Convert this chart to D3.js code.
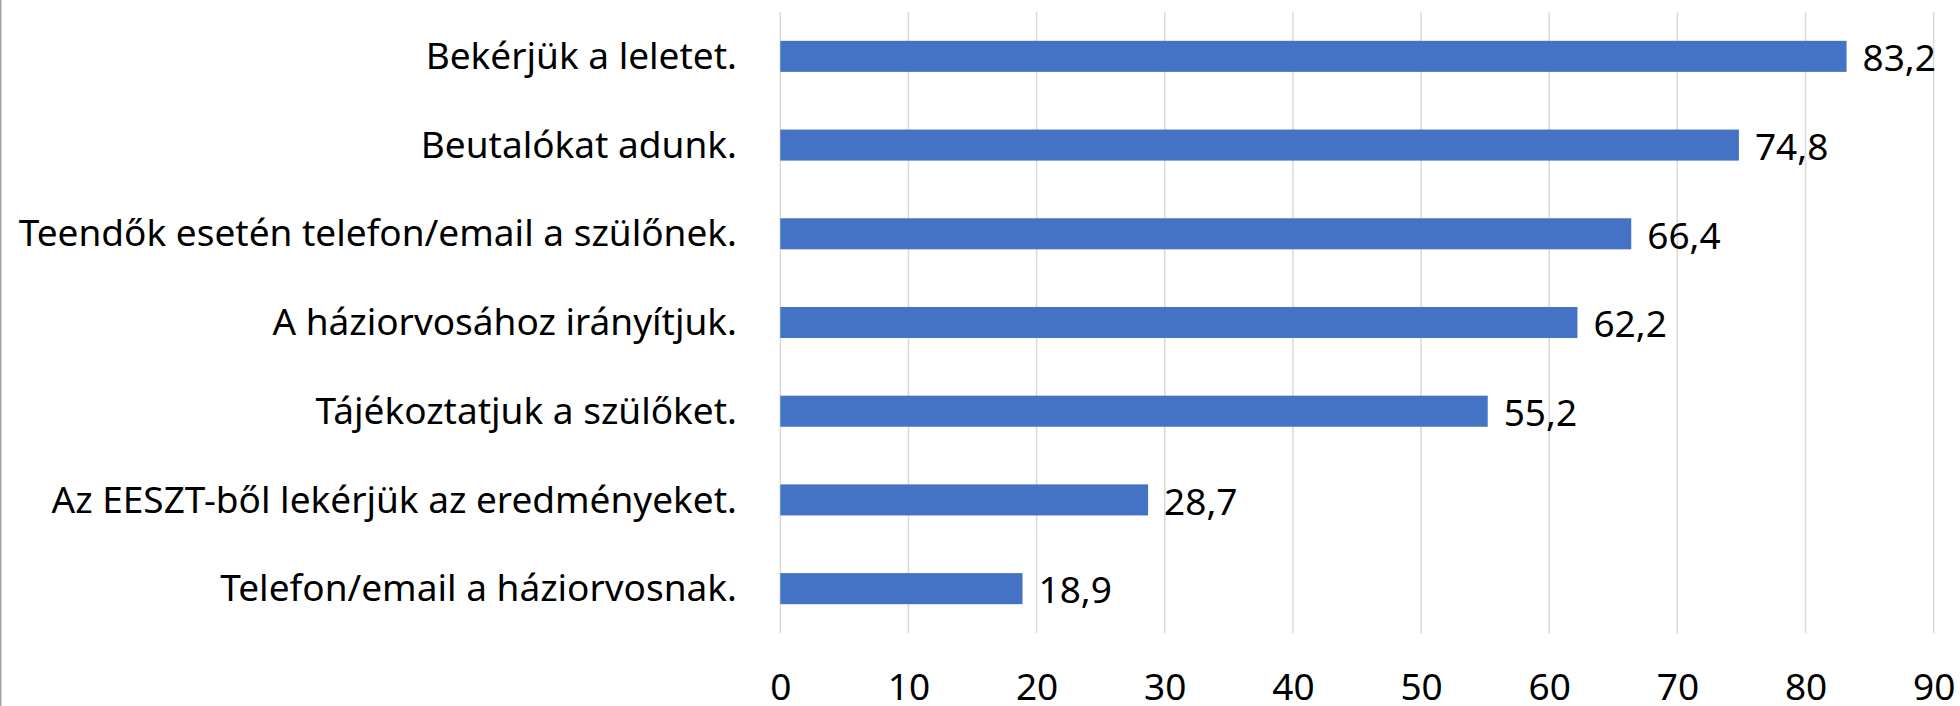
<!DOCTYPE html>
<html>
<head>
<meta charset="utf-8">
<script src="https://cdn.jsdelivr.net/npm/d3@7"></script>
<style>
  html, body { margin: 0; padding: 0; background: #fff; }
  svg { display: block; }
  text { font-family: "Noto Sans", "Open Sans", sans-serif; fill: #000; }
</style>
</head>
<body>
<svg id="chart" width="1960" height="706"></svg>
<script>
const categories = [
  "Bekérjük a leletet.",
  "Beutalókat adunk.",
  "Teendők esetén telefon/email a szülőnek.",
  "A háziorvosához irányítjuk.",
  "Tájékoztatjuk a szülőket.",
  "Az EESZT-ből lekérjük az eredményeket.",
  "Telefon/email a háziorvosnak."
];
const values = [83.2, 74.8, 66.4, 62.2, 55.2, 28.7, 18.9];
const valueLabels = ["83,2", "74,8", "66,4", "62,2", "55,2", "28,7", "18,9"];
const tickValues = [0, 10, 20, 30, 40, 50, 60, 70, 80, 90];

const W = 1960, H = 706;
const FS = 37;
const svg = d3.select("#chart");

const x = d3.scaleLinear().domain([0, 90]).range([780.3, 1933.7]);
const y = d3.scaleBand().domain(categories).range([12, 633])
  .paddingInner(0.65).paddingOuter(0.325);

// left border
svg.append("line")
  .attr("x1", 0.75).attr("x2", 0.75).attr("y1", 0).attr("y2", H)
  .attr("stroke", "#a6a6a6").attr("stroke-width", 1.5);

// gridlines
svg.append("g").selectAll("line").data(tickValues).join("line")
  .attr("x1", d => x(d)).attr("x2", d => x(d))
  .attr("y1", 12).attr("y2", 633)
  .attr("stroke", "#d9d9d9").attr("stroke-width", 1.5);

// bars
svg.append("g").selectAll("rect").data(values).join("rect")
  .attr("x", x(0))
  .attr("y", (d, i) => y(categories[i]))
  .attr("width", d => x(d) - x(0))
  .attr("height", y.bandwidth())
  .attr("fill", "#4472c4");

// value labels
svg.append("g").selectAll("text").data(values).join("text")
  .attr("x", d => x(d) + 16)
  .attr("y", (d, i) => y(categories[i]) + y.bandwidth() / 2)
  .attr("dy", "0.4em")
  .attr("font-size", FS)
  .text((d, i) => valueLabels[i]);

// category labels
svg.append("g").selectAll("text").data(categories).join("text")
  .attr("x", 737)
  .attr("y", d => y(d) + y.bandwidth() / 2)
  .attr("dy", "0.34em")
  .attr("text-anchor", "end")
  .attr("font-size", FS)
  .text(d => d);

// x axis tick labels
const xAxis = d3.axisBottom(x).tickValues(tickValues).tickSize(0).tickPadding(0)
  .tickFormat(d3.format("d"));
const gx = svg.append("g").attr("transform", "translate(0,700)").call(xAxis);
gx.select(".domain").remove();
gx.selectAll("text")
  .attr("y", 0).attr("dy", 0)
  .attr("font-size", FS)
  .style("font-family", '"Noto Sans", "Open Sans", sans-serif')
  .attr("fill", "#000");
</script>
</body>
</html>
